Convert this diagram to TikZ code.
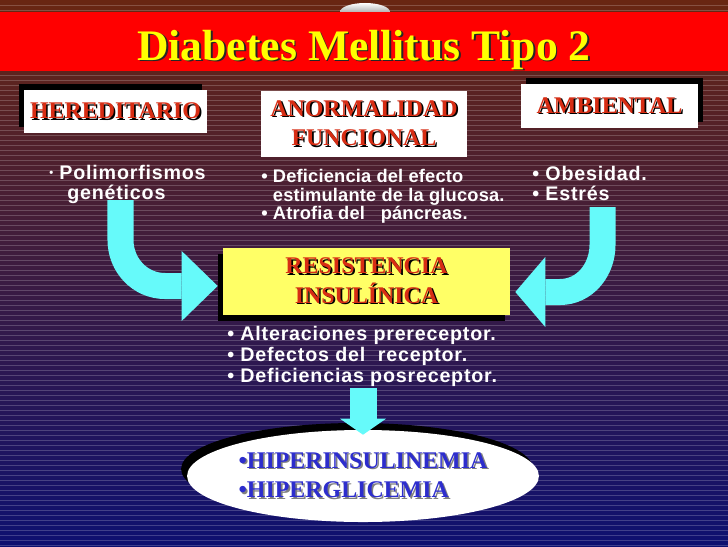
\documentclass[tikz,border=0pt]{standalone}
\usepackage{fontspec}
\setmainfont{Liberation Serif}
\setsansfont{Liberation Sans}[LetterSpace=4]
\usetikzlibrary{shapes.geometric, arrows.meta, shadows}

\definecolor{fondoalto}{RGB}{105,38,18}
\definecolor{fondomedio}{RGB}{58,24,72}
\definecolor{fondobajo}{RGB}{14,16,112}
\definecolor{rojobanda}{RGB}{255,0,0}
\definecolor{amarillo}{RGB}{255,255,0}
\definecolor{amarillocaja}{RGB}{255,255,102}
\definecolor{rojotexto}{RGB}{215,45,20}
\definecolor{azultexto}{RGB}{45,45,205}
\definecolor{celeste}{RGB}{102,250,250}

\tikzstyle{raya} = [white, opacity=0.2, line width=0.6pt]
\tikzstyle{caja} = [rectangle, fill=white, text=rojotexto, font=\fontsize{17}{21}\selectfont\bfseries, align=center, inner sep=0pt]
\tikzstyle{lista} = [text=white, align=left, inner sep=0pt, anchor=north west]
\tikzstyle{flecha} = [draw=celeste, line width=0.65cm, -{Triangle[width=1.75cm, length=0.9cm, line width=0pt]}]

\newcommand{\sombra}[2]{%  texto con sombra abajo a la derecha
  \makebox[0pt][l]{\kern1.2pt\raisebox{-1.2pt}{\textcolor{#1}{#2}}}#2}

\begin{document}
\begin{tikzpicture}[x=0.025cm, y=-0.025cm]
  \useasboundingbox (0,0) rectangle (728,546);
  % fondo
  \shade[top color=fondoalto, middle color=fondomedio, bottom color=fondobajo] (0,0) rectangle (728,546);
  \foreach \s in {1,...,109}
    \draw[raya] (0,\s*5) -- (728,\s*5);
  \shade[top color=white, bottom color=gray!60] (340,12) arc[start angle=180, end angle=0, x radius=0.625cm, y radius=0.225cm] -- cycle;
  \fill[rojobanda] (0,12) rectangle (728,71);

  \node (titulo) at (364,60) [anchor=base, inner sep=0pt, text=amarillo, font=\fontsize{31}{31}\selectfont\bfseries] {\sombra{black!85}{Diabetes Mellitus Tipo 2}};

  \node (hered) at (115.5,111.5) [caja, minimum width=4.575cm, minimum height=1.075cm,
    drop shadow={shadow xshift=-0.125cm, shadow yshift=0.15cm, opacity=1, fill=black}] {\sombra{black}{HEREDITARIO}};
  \node (anorm) at (364,124) [caja, minimum width=5.15cm, minimum height=1.65cm] {
    \sombra{black}{ANORMALIDAD}\\
    \sombra{black}{FUNCIONAL}
  };
  \node (ambient) at (609.5,106) [caja, minimum width=4.425cm, minimum height=1.1cm,
    drop shadow={shadow xshift=0.125cm, shadow yshift=0.15cm, opacity=1, fill=black}] {\sombra{black}{AMBIENTAL}};

  \node (polim) at (49,165) [lista, font=\sffamily\bfseries\fontsize{14}{14}\selectfont] {
    \raisebox{2pt}{\fontsize{8}{8}\selectfont•} Polimorfismos\\
    \hspace*{12.8pt}genéticos
  };
  \node (defic) at (261,169) [lista, font=\sffamily\addfontfeature{LetterSpace=1}\bfseries\fontsize{13}{13.2}\selectfont] {
    • Deficiencia del efecto\\
    \phantom{• }estimulante de la glucosa.\\
    • Atrofia del\ \ \ páncreas.
  };
  \node (obes) at (532,166) [lista, font=\sffamily\bfseries\fontsize{14}{14.2}\selectfont] {
    • Obesidad.\\
    • Estrés
  };

  \node (resist) at (366.5,281.5) [caja, fill=amarillocaja, minimum width=7.175cm, minimum height=1.675cm,
    drop shadow={shadow xshift=-0.125cm, shadow yshift=-0.15cm, opacity=1, fill=black}] {
    \sombra{black}{RESISTENCIA}\\
    \sombra{black}{INSULÍNICA}
  };
  \node (causas) at (227,326) [lista, font=\sffamily\bfseries\fontsize{14}{15}\selectfont] {
    • Alteraciones prereceptor.\\
    • Defectos del\ \ receptor.\\
    • Deficiencias posreceptor.
  };

  \node (result) at (363,476) [ellipse, fill=white, minimum width=8.45cm, minimum height=2.3cm, inner sep=0pt,
    text=azultexto, align=left, font=\fontsize{17}{21}\selectfont\bfseries,
    drop shadow={shadow xshift=-0.15cm, shadow yshift=0.175cm, opacity=1, fill=black}] {
    \sombra{gray}{•HIPERINSULINEMIA}\\
    \sombra{gray}{•HIPERGLICEMIA}
  };

  % flechas
  \coordinate (izq) at (120.5,200);
  \coordinate (der) at (602.5,207);
  \coordinate (abajo) at (363,388);
  \draw[flecha] (izq) -- (120.5,240) to[out=-90, in=180] (165,286) -- ([xshift=-0.125cm, yshift=-0.1125cm]resist.west);
  \draw[flecha, -{Triangle[width=1.75cm, length=0.75cm, line width=0pt]}] (der) -- (602.5,245) to[out=-90, in=0] (560,292) -- ([xshift=0.125cm, yshift=-0.2625cm]resist.east);
  \draw[flecha, line width=0.675cm, -{Triangle[width=1.15cm, length=0.4cm, line width=0pt]}] (abajo) -- ([yshift=-0.125cm]result.north);
\end{tikzpicture}
\end{document}
